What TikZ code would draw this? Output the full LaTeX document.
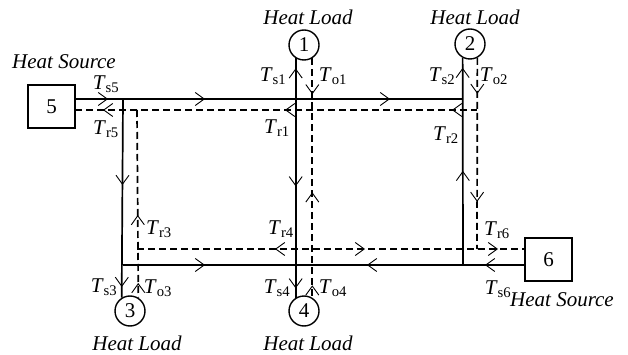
\documentclass[tikz,border=0pt]{standalone}
\usepackage{fontspec}
\setmainfont{Liberation Serif}
\usetikzlibrary{arrows.meta,decorations.markings}

\begin{document}
\begin{tikzpicture}[x=1pt,y=-1pt,
  font=\fontsize{21}{25}\selectfont,
  supply/.style={line width=1.7pt},
  ret/.style={line width=1.7pt,dash pattern=on 7pt off 4pt},
  src/.style={draw,line width=1.4pt,minimum width=47pt,minimum height=43pt,inner sep=0pt},
  ld/.style={draw,circle,line width=1.4pt,minimum size=30pt,inner sep=0pt},
  lbl/.style={inner sep=0pt},
  chev/.tip={Straight Barb[length=9pt,width=13pt,line width=0.9pt]},
  fwd/.style={postaction={decorate,decoration={markings,
    mark=at position #1 with {\arrow{chev}}}}},
  bwd/.style={postaction={decorate,decoration={markings,
    mark=at position #1 with {\arrowreversed{chev}}}}}]
\useasboundingbox (0,0) rectangle (628,355);

\node[src] (s5) at (51.5,106.5) {5};
\node[src] (s6) at (548.5,259.5) {6};
\node[ld] (l1) at (304,45) {1};
\node[ld] (l2) at (470,44) {2};
\node[ld] (l3) at (130,311) {3};
\node[ld] (l4) at (304,311) {4};

\node[lbl] (hs5) at (64,62) {\textit{Heat Source}};
\node[lbl] (hs6) at (562,300) {\textit{Heat Source}};
\node[lbl] (hl1) at (308,17) {\textit{Heat Load}};
\node[lbl] (hl2) at (475,17) {\textit{Heat Load}};
\node[lbl] (hl3) at (137,343) {\textit{Heat Load}};
\node[lbl] (hl4) at (308,343) {\textit{Heat Load}};

\coordinate (ss5) at (75,99);
\coordinate (sa) at (123,99);
\coordinate (sc) at (463,99);
\coordinate (sd) at (123,265);
\coordinate (sf) at (463,265);
\coordinate (ss6) at (525,265);
\coordinate (rs5) at (75,110);
\coordinate (ra) at (137,110);
\coordinate (rc) at (477,110);
\coordinate (rd) at (137,249);
\coordinate (rf) at (477,249);
\coordinate (rs6) at (525,249);

\draw[supply, fwd=33pt, fwd=130pt, fwd=315pt] (ss5) -- (sc);
\draw[supply, fwd=86pt, fwd=188pt] (sa) -- (l3.122);
\draw[supply, bwd=10pt, fwd=128pt, fwd=230pt] (l1.238) -- (l4.122);
\draw[supply, bwd=10pt, bwd=113pt] (l2.242) -- (sf);
\draw[supply, fwd=82pt, bwd=244pt, bwd=362pt] (sd) -- (ss6);

\draw[ret, bwd=28pt, bwd=210pt, bwd=377pt] (rs5) -- (rc);
\draw[ret, bwd=105pt, bwd=173pt] (ra) -- (l3.58);
\draw[ret, fwd=36pt, bwd=134pt, bwd=227pt] (l1.302) -- (l4.58);
\draw[ret, fwd=36pt, fwd=144pt] (l2.298) -- (rf);
\draw[ret, bwd=138pt, fwd=228pt, fwd=361pt] (rd) -- (rs6);

\node[lbl] (ts5) at (106,84) {\textit{T}\textsubscript{s5}};
\node[lbl] (tr5) at (106,129) {\textit{T}\textsubscript{r5}};
\node[lbl] (ts1) at (273,76) {\textit{T}\textsubscript{s1}};
\node[lbl] (to1) at (333,76) {\textit{T}\textsubscript{o1}};
\node[lbl] (tr1) at (277,128) {\textit{T}\textsubscript{r1}};
\node[lbl] (ts2) at (442,76) {\textit{T}\textsubscript{s2}};
\node[lbl] (to2) at (494,76) {\textit{T}\textsubscript{o2}};
\node[lbl] (tr2) at (446,135) {\textit{T}\textsubscript{r2}};
\node[lbl] (tr3) at (159,229) {\textit{T}\textsubscript{r3}};
\node[lbl] (tr4) at (281,229) {\textit{T}\textsubscript{r4}};
\node[lbl] (tr6) at (497,230) {\textit{T}\textsubscript{r6}};
\node[lbl] (ts3) at (104,287) {\textit{T}\textsubscript{s3}};
\node[lbl] (to3) at (158,288) {\textit{T}\textsubscript{o3}};
\node[lbl] (ts4) at (277,288) {\textit{T}\textsubscript{s4}};
\node[lbl] (to4) at (333,288) {\textit{T}\textsubscript{o4}};
\node[lbl] (ts6) at (498,289) {\textit{T}\textsubscript{s6}};
\end{tikzpicture}
\end{document}
